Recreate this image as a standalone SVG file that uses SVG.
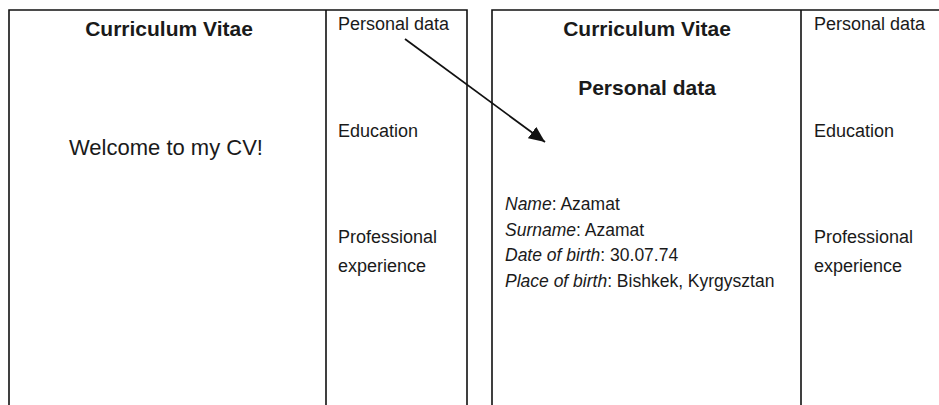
<svg xmlns="http://www.w3.org/2000/svg" width="939" height="405" viewBox="0 0 939 405">
<defs>
<style>
.frame{fill:none;stroke:#111;stroke-width:1.6}
.t{font-family:"Liberation Sans",Arial,sans-serif;fill:#1a1a1a}
.h{font-size:21px;font-weight:bold;text-anchor:middle}
.side{font-size:18px}
.big{font-size:22px;text-anchor:middle}
.f{font-size:17.5px}
.i{font-style:italic}
.conn{stroke:#111;stroke-width:1.8;fill:none}
</style>
<marker id="ah" markerUnits="userSpaceOnUse" markerWidth="17" markerHeight="14" refX="16" refY="7" orient="auto">
<path d="M0,0 L16,7 L0,14 Z" fill="#111"/>
</marker>
</defs>
<rect width="939" height="405" fill="#fff"/>
<g id="page-welcome">
<path class="frame" d="M9,410 V10 H467 V410 M326,10 V410"/>
<text class="t h" x="169" y="36">Curriculum Vitae</text>
<text class="t big" x="166" y="155">Welcome to my CV!</text>
<text class="t side" x="338" y="30">Personal data</text>
<text class="t side" x="338" y="137">Education</text>
<text class="t side" x="338" y="243">Professional</text>
<text class="t side" x="338" y="272">experience</text>
</g>
<g id="page-personal">
<path class="frame" d="M492,410 V10 H945 M801,10 V410"/>
<text class="t h" x="647" y="36">Curriculum Vitae</text>
<text class="t h" x="647" y="95">Personal data</text>
<text class="t f" x="505" y="210"><tspan class="i">Name</tspan>: Azamat</text>
<text class="t f" x="505" y="235.5"><tspan class="i">Surname</tspan>: Azamat</text>
<text class="t f" x="505" y="261"><tspan class="i">Date of birth</tspan>: 30.07.74</text>
<text class="t f" x="505" y="286.5"><tspan class="i">Place of birth</tspan>: Bishkek, Kyrgysztan</text>
<text class="t side" x="814" y="30">Personal data</text>
<text class="t side" x="814" y="137">Education</text>
<text class="t side" x="814" y="243">Professional</text>
<text class="t side" x="814" y="272">experience</text>
</g>
<g id="connectors">
<line class="conn" x1="405" y1="39" x2="545" y2="142" marker-end="url(#ah)"/>
</g>
</svg>
